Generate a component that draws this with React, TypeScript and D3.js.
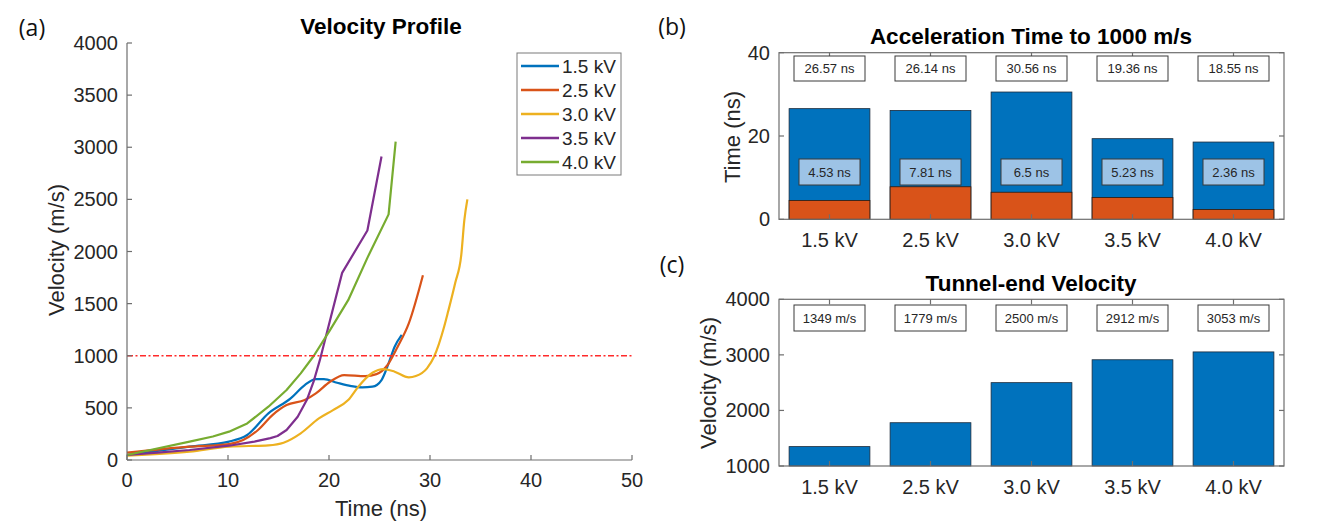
import React from 'react';
import * as d3 from 'd3';

// ---------- data ----------
const voltages = ['1.5 kV', '2.5 kV', '3.0 kV', '3.5 kV', '4.0 kV'];
const lineColors = ['#0072BD', '#D95319', '#EDB120', '#7E2F8E', '#77AC30'];

const time15 = [0, 6.2, 10.1, 11.9, 14, 16.2, 17.6, 18.7, 19.5, 20.8, 22.2, 23.3, 24.3, 25.2, 25.9, 26.5, 27.2];
const vel15 = [48, 128, 176, 240, 447, 591, 719, 776, 776, 741, 709, 697, 703, 767, 927, 1086, 1200];

const time25 = [0, 6.2, 10.1, 11.5, 12.97, 14.4, 15.8, 17.6, 18.7, 20.1, 21.5, 23.6, 24.7, 25.8, 26.8, 27.9, 29.3];
const vel25 = [70, 128, 153, 192, 288, 431, 527, 575, 639, 751, 815, 805, 824, 911, 1086, 1310, 1772];

const time30 = [0, 6.2, 10.1, 14, 15.5, 17.2, 19, 20.4, 21.9, 22.9, 24.3, 25.4, 26.5, 27.9, 28.6, 29.7, 30.4, 31.4, 31.8, 32.5, 33.1, 33.4, 33.7];
const vel30 = [42, 80, 128, 141, 166, 256, 399, 479, 575, 703, 837, 872, 847, 792, 805, 879, 990, 1278, 1426, 1700, 1971, 2300, 2500];

const time35 = [0, 3, 6.2, 10.1, 12.6, 14.2, 14.9, 15.8, 16.9, 17.8, 18.5, 19.1, 21.3, 23.8, 25.2];
const vel35 = [48, 70, 96, 137, 176, 210, 230, 288, 415, 575, 760, 960, 1795, 2202, 2912];

const time40 = [0, 2.3, 6.2, 8.5, 10.1, 11.9, 14, 15.8, 17.2, 18.5, 20.1, 21.9, 23.8, 25.9, 26.6];
const vel40 = [48, 96, 176, 225, 272, 351, 511, 671, 831, 1000, 1246, 1533, 1939, 2356, 3053];

const profileTimes = [time15, time25, time30, time35, time40];
const profileVels = [vel15, vel25, vel30, vel35, vel40];

const thresholdVelocity = 1000;
const timeTicks = [0, 10, 20, 30, 40, 50];
const velocityTicks = [0, 500, 1000, 1500, 2000, 2500, 3000, 3500, 4000];

const accelTotal = [26.57, 26.14, 30.56, 19.36, 18.55];
const accelInitial = [4.53, 7.81, 6.5, 5.23, 2.36];
const accelTotalLabels = ['26.57 ns', '26.14 ns', '30.56 ns', '19.36 ns', '18.55 ns'];
const accelInitialLabels = ['4.53 ns', '7.81 ns', '6.5 ns', '5.23 ns', '2.36 ns'];
const accelTicks = [0, 20, 40];

const endVelocity = [1349, 1779, 2500, 2912, 3053];
const endVelocityLabels = ['1349 m/s', '1779 m/s', '2500 m/s', '2912 m/s', '3053 m/s'];
const endTicks = [1000, 2000, 3000, 4000];

// ---------- style ----------
const FONT = "'Liberation Sans', Arial, Helvetica, sans-serif";
const AXIS = '#6e6e6e';
const TXT = '#262626';
const BLUE = '#0072BD';
const ORANGE = '#D95319';
const LIGHTBLUE = '#9DC3E6';

function Profile() {
  const x = d3.scaleLinear().domain([0, 50]).range([127, 632]);
  const y = d3.scaleLinear().domain([0, 4000]).range([460, 43]);
  const smooth = d3
    .line<[number, number]>()
    .x((d) => x(d[0]))
    .y((d) => y(d[1]))
    .curve(d3.curveMonotoneX);
  const straight = d3
    .line<[number, number]>()
    .x((d) => x(d[0]))
    .y((d) => y(d[1]))
    .curve(d3.curveLinear);
  return (
    <g>
      <text x={32} y={36} fontFamily="'Open Sans', sans-serif" fontSize={23} textAnchor="middle" fill="#111">(a)</text>
      <text x={381} y={34} fontFamily={FONT} fontWeight="bold" fontSize={22.5} textAnchor="middle" fill="#000">Velocity Profile</text>
      {profileTimes.map((ts, i) => {
        const gen = i >= 3 ? straight : smooth;
        return (
          <path
            key={i}
            d={gen(ts.map((t, j) => [t, profileVels[i][j]] as [number, number])) || ''}
            fill="none"
            stroke={lineColors[i]}
            strokeWidth={2.2}
            strokeLinejoin="round"
          />
        );
      })}
      <line x1={x(0)} x2={x(50)} y1={y(thresholdVelocity)} y2={y(thresholdVelocity)} stroke="#ff2a2a" strokeWidth={1.6} strokeDasharray="6,2.5,2,2.5" />
      <line x1={x(0)} x2={x(50)} y1={y(0)} y2={y(0)} stroke={AXIS} strokeWidth={1.2} />
      <line x1={x(0)} x2={x(0)} y1={y(0)} y2={y(4000)} stroke={AXIS} strokeWidth={1.2} />
      {timeTicks.map((t) => (
        <g key={t}>
          <line x1={x(t)} x2={x(t)} y1={y(0)} y2={y(0) - 5} stroke={AXIS} strokeWidth={1.2} />
          <text x={x(t)} y={487} fontFamily={FONT} fontSize={20} textAnchor="middle" fill={TXT}>{t}</text>
        </g>
      ))}
      {velocityTicks.map((v) => (
        <g key={v}>
          <line x1={x(0)} x2={x(0) + 5} y1={y(v)} y2={y(v)} stroke={AXIS} strokeWidth={1.2} />
          <text x={118} y={y(v) + 7} fontFamily={FONT} fontSize={20} textAnchor="end" fill={TXT}>{v}</text>
        </g>
      ))}
      <text x={381} y={516} fontFamily={FONT} fontSize={22} textAnchor="middle" fill={TXT}>Time (ns)</text>
      <text transform="translate(64,250) rotate(-90)" fontFamily={FONT} fontSize={22} textAnchor="middle" fill={TXT}>Velocity (m/s)</text>
      <rect x={517} y={53} width={104} height={122} fill="#fff" stroke="#7a7a7a" strokeWidth={1} />
      {voltages.map((v, i) => (
        <g key={v}>
          <line x1={521} x2={559} y1={66 + i * 24} y2={66 + i * 24} stroke={lineColors[i]} strokeWidth={2.4} />
          <text x={562} y={66 + i * 24 + 7} fontFamily={FONT} fontSize={19} fill={TXT}>{v}</text>
        </g>
      ))}
    </g>
  );
}

function LabelBox({ cx, y0, w, h, text, fill }: { cx: number; y0: number; w: number; h: number; text: string; fill: string }) {
  return (
    <g>
      <rect x={cx - w / 2} y={y0} width={w} height={h} fill={fill} stroke="#3a3a3a" strokeWidth={1} />
      <text x={cx} y={y0 + h / 2 + 4.5} fontFamily={FONT} fontSize={13} textAnchor="middle" fill={TXT}>{text}</text>
    </g>
  );
}

function BarFrame({ x, y, ticks, top, bottom }: any) {
  const left = 779;
  const right = 1284;
  return (
    <g>
      <rect x={left} y={top} width={right - left} height={bottom - top} fill="none" stroke={AXIS} strokeWidth={1.2} />
      {ticks.map((t: number) => (
        <g key={t}>
          <line x1={left} x2={left + 5} y1={y(t)} y2={y(t)} stroke={AXIS} strokeWidth={1.2} />
          <line x1={right} x2={right - 5} y1={y(t)} y2={y(t)} stroke={AXIS} strokeWidth={1.2} />
          <text x={770} y={y(t) + 7} fontFamily={FONT} fontSize={20} textAnchor="end" fill={TXT}>{t}</text>
        </g>
      ))}
      {voltages.map((v) => {
        const cx = (x(v) as number) + x.bandwidth() / 2;
        return (
          <g key={v}>
            <line x1={cx} x2={cx} y1={bottom} y2={bottom - 5} stroke={AXIS} strokeWidth={1.2} />
            <line x1={cx} x2={cx} y1={top} y2={top + 5} stroke={AXIS} strokeWidth={1.2} />
            <text x={cx} y={bottom + 28} fontFamily={FONT} fontSize={20} textAnchor="middle" fill={TXT}>{v}</text>
          </g>
        );
      })}
    </g>
  );
}

function AccelChart() {
  const x = d3.scaleBand<string>().domain(voltages).range([779, 1284]).paddingInner(0.2).paddingOuter(0.1);
  const y = d3.scaleLinear().domain([0, 40]).range([219.3, 52.7]);
  const cx = (v: string) => (x(v) as number) + x.bandwidth() / 2;
  return (
    <g>
      <text x={672} y={35} fontFamily="'Open Sans', sans-serif" fontSize={23} textAnchor="middle" fill="#111">(b)</text>
      <text x={1031} y={44} fontFamily={FONT} fontWeight="bold" fontSize={22.5} textAnchor="middle" fill="#000">Acceleration Time to 1000 m/s</text>
      {voltages.map((v, i) => (
        <g key={v}>
          <rect x={x(v)} y={y(accelTotal[i])} width={x.bandwidth()} height={y(0) - y(accelTotal[i])} fill={BLUE} stroke="#1b2a3a" strokeWidth={0.8} />
          <rect x={x(v)} y={y(accelInitial[i])} width={x.bandwidth()} height={y(0) - y(accelInitial[i])} fill={ORANGE} stroke="#2a1a10" strokeWidth={0.8} />
        </g>
      ))}
      <BarFrame x={x} y={y} ticks={accelTicks} top={52.7} bottom={219.3} />
      {voltages.map((v, i) => (
        <g key={v}>
          <LabelBox cx={cx(v)} y0={56} w={71} h={25} text={accelTotalLabels[i]} fill="#fff" />
          <LabelBox cx={cx(v)} y0={159} w={61} h={26} text={accelInitialLabels[i]} fill={LIGHTBLUE} />
        </g>
      ))}
      <text transform="translate(740,137) rotate(-90)" fontFamily={FONT} fontSize={22} textAnchor="middle" fill={TXT}>Time (ns)</text>
    </g>
  );
}

function EndVelocityChart() {
  const x = d3.scaleBand<string>().domain(voltages).range([779, 1284]).paddingInner(0.2).paddingOuter(0.1);
  const y = d3.scaleLinear().domain([1000, 4000]).range([466, 299.3]);
  const cx = (v: string) => (x(v) as number) + x.bandwidth() / 2;
  return (
    <g>
      <text x={672} y={273} fontFamily="'Open Sans', sans-serif" fontSize={23} textAnchor="middle" fill="#111">(c)</text>
      <text x={1031} y={291} fontFamily={FONT} fontWeight="bold" fontSize={22.5} textAnchor="middle" fill="#000">Tunnel-end Velocity</text>
      {voltages.map((v, i) => (
        <rect key={v} x={x(v)} y={y(endVelocity[i])} width={x.bandwidth()} height={y(1000) - y(endVelocity[i])} fill={BLUE} stroke="#1b2a3a" strokeWidth={0.8} />
      ))}
      <BarFrame x={x} y={y} ticks={endTicks} top={299.3} bottom={466} />
      {voltages.map((v, i) => (
        <LabelBox key={v} cx={cx(v)} y0={305} w={71} h={26} text={endVelocityLabels[i]} fill="#fff" />
      ))}
      <text transform="translate(716,383) rotate(-90)" fontFamily={FONT} fontSize={22} textAnchor="middle" fill={TXT}>Velocity (m/s)</text>
    </g>
  );
}

export default function App() {
  return (
    <svg width={1344} height={524} style={{ position: 'absolute', left: 0, top: 0, background: '#fff' }}>
      <rect x={0} y={0} width={1344} height={524} fill="#fff" />
      <Profile />
      <AccelChart />
      <EndVelocityChart />
    </svg>
  );
}
